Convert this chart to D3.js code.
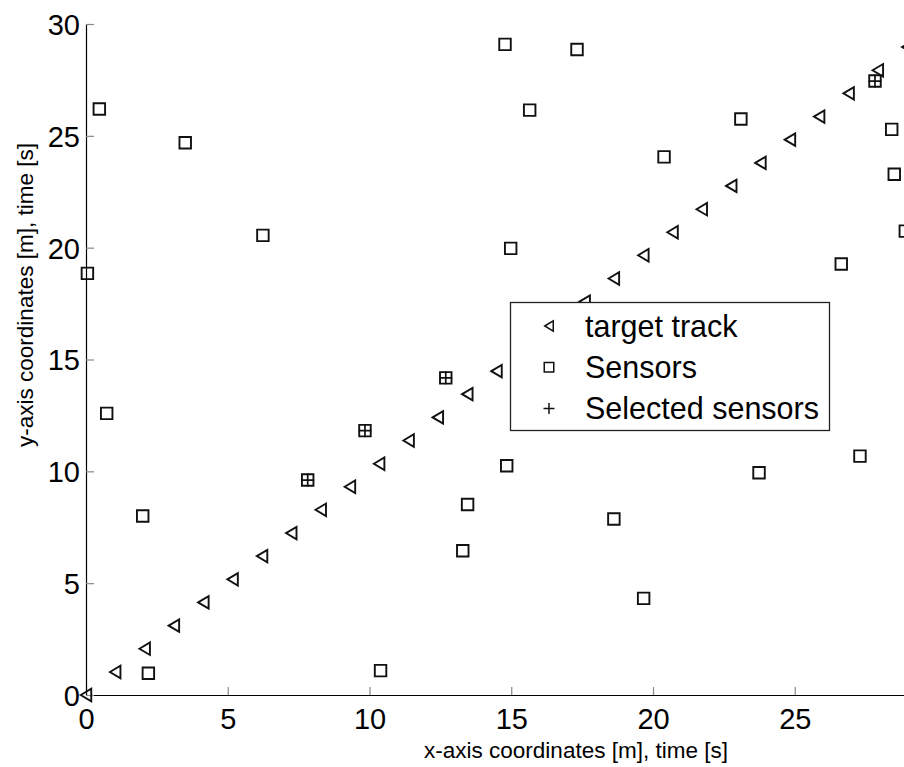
<!DOCTYPE html>
<html>
<head>
<meta charset="utf-8">
<script src="https://cdn.jsdelivr.net/npm/d3@7"></script>
<style>
  body { margin: 0; background: #fff; }
  svg { display: block; font-family: "Liberation Sans", Arial, sans-serif; }
</style>
</head>
<body>
<svg id="chart" width="904" height="767"></svg>
<script>
const svgEl = document.querySelector("#chart");

// data
const xTrack = [0, 1.03, 2.07, 3.10, 4.14, 5.17, 6.21, 7.24, 8.28, 9.31, 10.34, 11.38, 12.41, 13.45, 14.48,
    15.52, 16.55, 17.59, 18.62, 19.66, 20.69, 21.72, 22.76, 23.79, 24.83, 25.86, 26.90, 27.93, 28.97, 30.00];
const yTrack = [0, 1.03, 2.07, 3.10, 4.14, 5.17, 6.21, 7.24, 8.28, 9.31, 10.34, 11.38, 12.41, 13.45, 14.48,
    15.52, 16.55, 17.59, 18.62, 19.66, 20.69, 21.72, 22.76, 23.79, 24.83, 25.86, 26.90, 27.93, 28.97, 30.00];

const xSensor = [0.47, 3.50, 6.24, 0.05, 0.73, 2.00, 2.20, 10.39, 7.82, 9.84, 12.69, 14.84, 13.46, 13.29, 18.62,
    19.67, 23.74, 14.78, 17.32, 15.65, 20.39, 14.98, 23.10, 28.42, 28.51, 28.90, 26.64, 27.83, 27.30];
const ySensor = [26.20, 24.69, 20.55, 18.85, 12.59, 8.00, 0.97, 1.09, 9.61, 11.82, 14.18, 10.25, 8.52, 6.45, 7.87,
    4.32, 9.94, 29.09, 28.86, 26.15, 24.06, 19.97, 25.75, 25.29, 23.28, 20.74, 19.27, 27.45, 10.68];

const xSelected = [7.82, 9.84, 12.69, 27.83];
const ySelected = [9.61, 11.82, 14.18, 27.45];

const xTicks = [0, 5, 10, 15, 20, 25];
const yTicks = [0, 5, 10, 15, 20, 25, 30];
const legendLabels = ["target track", "Sensors", "Selected sensors"];

//settings
const fontTick = 29;
const fontLabel = 22.5;
const fontLegend = 30.5;

var svg = d3.select(svgEl);

var x = d3.scaleLinear().domain([0, 30]).range([86, 936.5]);
var y = d3.scaleLinear().domain([0, 30]).range([695, 24]);

// marker shapes
function triLeft(w, h) {
    return "M" + (-w / 2) + ",0L" + (w / 2) + "," + (-h / 2) + "L" + (w / 2) + "," + (h / 2) + "Z";
}
function square(s) {
    return "M" + (-s / 2) + "," + (-s / 2) + "h" + s + "v" + s + "h" + (-s) + "Z";
}
function plus(s) {
    return "M" + (-s / 2) + ",0H" + (s / 2) + "M0," + (-s / 2) + "V" + (s / 2);
}

//axes
var xAxis = svg.append("g").attr("transform", "translate(0,695)")
    .call(d3.axisBottom(x).tickValues(xTicks).tickSizeInner(-8).tickSizeOuter(0));
var yAxis = svg.append("g").attr("transform", "translate(86,0)")
    .call(d3.axisLeft(y).tickValues(yTicks).tickSizeInner(-8).tickSizeOuter(0));

xAxis.select(".domain").attr("stroke", "#000").attr("stroke-width", 1.2);
yAxis.select(".domain").attr("stroke", "#000").attr("stroke-width", 1.2);
svg.selectAll(".tick line").attr("stroke", "#888").attr("stroke-width", 1.2);

xAxis.selectAll(".tick text")
    .attr("y", 34).attr("dy", 0)
    .attr("font-size", fontTick).attr("font-family", null).attr("fill", "#000");
yAxis.selectAll(".tick text")
    .attr("x", -6).attr("dy", "0.36em")
    .attr("font-size", fontTick).attr("font-family", null).attr("fill", "#000");

svg.append("text")
    .attr("x", 576).attr("y", 758)
    .attr("text-anchor", "middle")
    .attr("font-size", fontLabel)
    .text("x-axis coordinates [m], time [s]");

svg.append("text")
    .attr("transform", "translate(33,295) rotate(-90)")
    .attr("text-anchor", "middle")
    .attr("font-size", fontLabel)
    .text("y-axis coordinates [m], time [s]");

//points
svg.append("g").selectAll("path").data(xTrack).join("path")
    .attr("transform", (d, i) => "translate(" + x(d) + "," + y(yTrack[i]) + ")")
    .attr("d", triLeft(10.5, 12.5))
    .attr("fill", "none").attr("stroke", "#111").attr("stroke-width", 1.9);

svg.append("g").selectAll("path").data(xSensor).join("path")
    .attr("transform", (d, i) => "translate(" + x(d) + "," + y(ySensor[i]) + ")")
    .attr("d", square(11.5))
    .attr("fill", "none").attr("stroke", "#111").attr("stroke-width", 1.9);

svg.append("g").selectAll("path").data(xSelected).join("path")
    .attr("transform", (d, i) => "translate(" + x(d) + "," + y(ySelected[i]) + ")")
    .attr("d", plus(13))
    .attr("fill", "none").attr("stroke", "#111").attr("stroke-width", 1.7);

//legend
var legend = svg.append("g");
legend.append("rect")
    .attr("x", 510.5).attr("y", 302.5).attr("width", 319).attr("height", 128)
    .attr("fill", "#fff").attr("stroke", "#222").attr("stroke-width", 1.3);

var legendShapes = [triLeft(8.5, 10.5), square(9.5), plus(11)];
var rows = legend.selectAll("g").data(legendLabels).join("g")
    .attr("transform", (d, i) => "translate(0," + (326 + i * 41.3) + ")");
rows.append("path")
    .attr("transform", "translate(549,0)")
    .attr("d", (d, i) => legendShapes[i])
    .attr("fill", "none").attr("stroke", "#111").attr("stroke-width", 1.5);
rows.append("text")
    .attr("x", 585).attr("dy", "0.35em")
    .attr("font-size", fontLegend)
    .text(d => d);
</script>
</body>
</html>
